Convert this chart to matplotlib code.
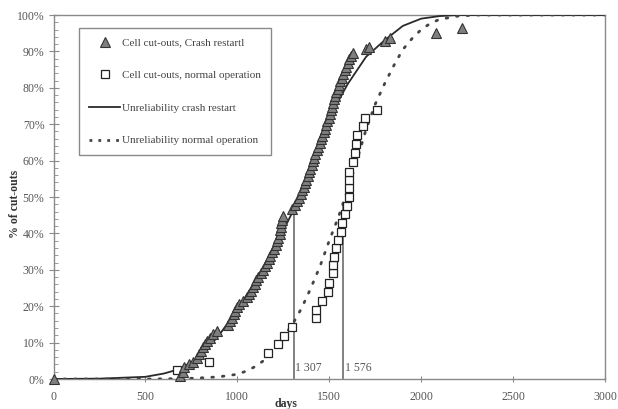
import matplotlib
matplotlib.use("Agg")
import matplotlib.pyplot as plt
from matplotlib.ticker import MultipleLocator, FuncFormatter
from matplotlib.lines import Line2D

# ---- data (days, % of cut-outs) ----
crash_days = [0, 690, 705, 712, 735, 760, 778, 790, 805, 814, 825, 835, 851, 870, 887,
              950, 962, 972, 980, 990, 998, 1010, 1030, 1050, 1065, 1075, 1085, 1095, 1104,
              1115, 1130, 1140, 1150, 1160, 1170, 1180, 1190, 1200, 1208, 1215, 1222, 1230,
              1234, 1238, 1240, 1243, 1246,
              1295, 1315, 1325, 1335, 1345, 1352, 1360, 1368, 1375, 1382, 1390, 1397, 1404,
              1411, 1418, 1425, 1432, 1440, 1447, 1454, 1462, 1470, 1477, 1484, 1490, 1496,
              1502, 1508, 1514, 1520, 1526, 1532, 1538, 1545, 1552, 1560, 1568, 1577, 1585,
              1592, 1600, 1610, 1620, 1629,
              1702, 1715, 1802, 1829, 2083, 2224]
crash_pct = [0, 0.8, 2.0, 3.2, 4.0, 4.8, 5.8, 6.8, 7.8, 8.7, 9.7, 10.5, 11.3, 12.3, 13.3,
             14.8, 15.8, 16.8, 17.8, 18.8, 19.8, 20.6, 21.5, 22.4, 23.4, 24.3, 25.2, 26.2, 27.2,
             28.1, 29.0, 30.0, 31.0, 32.0, 33.0, 33.9, 34.8, 35.8, 36.8, 37.8, 38.8, 39.8,
             40.8, 41.8, 42.8, 43.8, 44.8,
             46.8, 47.8, 48.8, 49.8, 50.8, 51.8, 52.8, 53.8, 54.8, 55.8, 56.8, 57.8, 58.8,
             59.8, 60.8, 61.8, 62.8, 63.8, 64.8, 65.8, 66.8, 67.8, 68.8, 69.8, 70.8, 71.8,
             72.8, 73.8, 74.8, 75.8, 76.8, 77.8, 78.8, 79.8, 80.8, 81.8, 82.8, 83.8, 84.8,
             85.8, 86.8, 87.8, 88.8, 89.6,
             90.6, 91.2, 92.8, 93.6, 95.0, 96.3]

normal_days = [670, 847, 1168, 1222, 1255, 1300, 1430, 1430, 1460, 1494, 1497, 1521, 1521,
               1525, 1539, 1548, 1565, 1570, 1584, 1595, 1606, 1606, 1606, 1606, 1628, 1638,
               1648, 1650, 1684, 1693, 1760]
normal_pct = [2.5, 4.8, 7.1, 9.5, 11.8, 14.4, 16.7, 19.0, 21.5, 24.0, 26.5, 29.0, 31.3,
              33.6, 35.9, 38.2, 40.5, 42.8, 45.2, 47.6, 50.0, 52.4, 54.7, 57.0, 59.5, 62.0,
              64.5, 67.0, 69.4, 71.7, 73.9]

crash_curve_days = [0, 250, 500, 600, 670, 750, 800, 900, 1000, 1100, 1200, 1307, 1400,
                    1500, 1540, 1600, 1700, 1800, 1900, 2000, 2100, 2200, 3000]
crash_curve_pct = [0, 0.1, 0.6, 1.5, 2.5, 4.5, 6.3, 12.0, 19.0, 27.0, 36.0, 46.5, 58.5,
                   70.0, 75.5, 81.0, 88.5, 93.0, 97.0, 99.0, 99.7, 100, 100]

normal_curve_days = [0, 500, 700, 800, 900, 1000, 1050, 1100, 1150, 1200, 1250, 1300, 1350,
                     1400, 1450, 1500, 1550, 1600, 1650, 1700, 1750, 1800, 1850, 1900, 1950,
                     2000, 2050, 2100, 2200, 2300, 3000]
normal_curve_pct = [0, 0, 0.1, 0.3, 0.6, 1.3, 2.2, 3.5, 5.3, 8.0, 11.5, 15.0, 19.5, 25.0,
                    31.0, 38.0, 44.5, 52.0, 60.0, 68.5, 75.5, 81.0, 86.0, 90.5, 93.5, 96.0,
                    97.7, 98.8, 99.7, 100, 100]

median_days = [1307, 1576]
median_tops = [46.5, 48.0]
median_labels = ["1 307", "1 576"]

legend_labels = ["Cell cut-outs, Crash restartl", "Cell cut-outs, normal operation",
                 "Unreliability crash restart", "Unreliability normal operation"]

# ---- figure ----
serif = ["Liberation Serif", "DejaVu Serif"]
plt.rcParams["font.family"] = serif

fig = plt.figure(figsize=(6.18, 4.09), dpi=100)
ax = fig.add_axes([53.5 / 618, 1 - 379 / 409, (605 - 53.5) / 618, (379 - 15) / 409])

grey = "#8a8a8a"
txt = "#555555"

ax.plot(crash_curve_days, crash_curve_pct, color="#2a2a2a", lw=1.3, zorder=3)
ax.plot(normal_curve_days, normal_curve_pct, color="#444444", lw=2.0,
        linestyle=(0, (0.6, 3.2)), dash_capstyle="round", zorder=3)

for d, top, lab in zip(median_days, median_tops, median_labels):
    ax.plot([d, d], [0, top], color="#777777", lw=1.3, zorder=2)
    ax.text(d + 8, 3, lab, fontsize=8.5, color=txt, ha="left", va="center")

ax.plot(crash_days, crash_pct, linestyle="none", marker="^", markersize=7.5,
        markerfacecolor="#7f7f7f", markeredgecolor="#333333", markeredgewidth=0.8,
        zorder=5, clip_on=False)
ax.plot(normal_days, normal_pct, linestyle="none", marker="s", markersize=6.3,
        markerfacecolor="white", markeredgecolor="#222222", markeredgewidth=0.9, zorder=4)

ax.set_xlim(0, 3000)
ax.set_ylim(0, 100)
ax.xaxis.set_major_locator(MultipleLocator(500))
ax.yaxis.set_major_locator(MultipleLocator(10))
ax.yaxis.set_minor_locator(MultipleLocator(2))
ax.yaxis.set_major_formatter(FuncFormatter(lambda v, p: f"{int(round(v))}%"))

for s in ax.spines.values():
    s.set_color(grey)
    s.set_linewidth(1.0)

ax.tick_params(axis="x", which="major", direction="inout", length=4, color=grey,
               labelsize=8.5, labelcolor=txt, pad=7)
ax.tick_params(axis="y", which="major", direction="inout", length=7, color=grey,
               labelsize=8.5, labelcolor=txt, pad=3)
ax.tick_params(axis="y", which="minor", direction="in", length=3, color=grey)

fig.text(286 / 618, 1 - 404 / 409, "days", fontsize=8.5, fontweight="bold",
         color="#333333", ha="center", va="center")
fig.text(15 / 618, 1 - 204 / 409, "% of cut-outs", fontsize=8.5, fontweight="bold",
         color="#333333", ha="center", va="center", rotation=90)

handles = [
    Line2D([], [], linestyle="none", marker="^", markersize=7.5, markerfacecolor="#7f7f7f",
           markeredgecolor="#333333", markeredgewidth=0.8),
    Line2D([], [], linestyle="none", marker="s", markersize=6.3, markerfacecolor="white",
           markeredgecolor="#222222", markeredgewidth=0.9),
    Line2D([], [], color="#2a2a2a", lw=1.3),
    Line2D([], [], color="#444444", lw=2.0, linestyle=(0, (1.0, 2.2))),
]
leg = ax.legend(handles, legend_labels, loc="upper left",
                bbox_to_anchor=((79 - 53.5) / 551.5, (379 - 28) / 364),
                fontsize=8.0, frameon=True, fancybox=False, framealpha=1,
                edgecolor=grey, handlelength=2.8, handletextpad=0.2,
                labelspacing=2.05, borderpad=0.9, borderaxespad=0)
leg.get_frame().set_linewidth(1.0)
for t in leg.get_texts():
    t.set_color("#444444")

fig.savefig("out.png", dpi=100)
